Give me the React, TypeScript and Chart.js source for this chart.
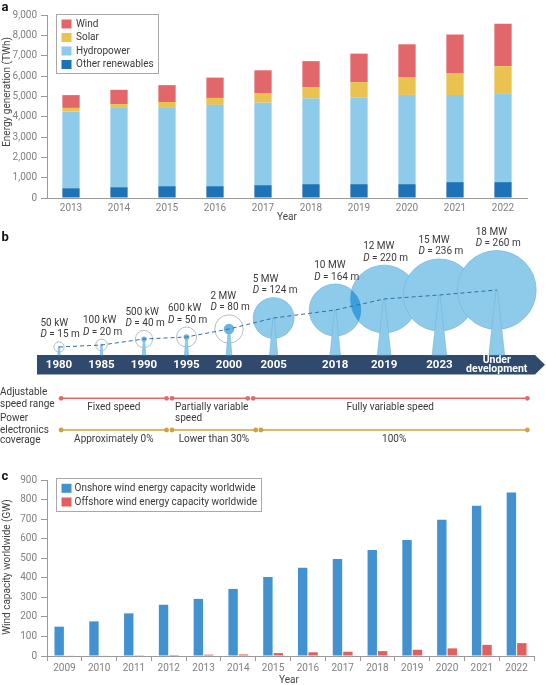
import React, { useEffect, useRef } from "react";
import { Chart, registerables } from "chart.js";

Chart.register(...registerables);

const FONT = "Roboto, 'Noto Sans', 'DejaVu Sans', sans-serif";

// ---------------- Panel a: renewable generation (TWh) ----------------
const genYears = ["2013", "2014", "2015", "2016", "2017", "2018", "2019", "2020", "2021", "2022"];
const otherRenewables = [480, 530, 580, 580, 630, 680, 680, 680, 780, 780];
const hydropower = [3780, 3900, 3850, 4000, 4060, 4210, 4260, 4390, 4280, 4340];
const solar = [170, 190, 290, 340, 470, 550, 760, 880, 1060, 1360];
const wind = [630, 700, 830, 1000, 1120, 1290, 1400, 1610, 1920, 2090];
const genTickLabels = ["0", "1,000", "2,000", "3,000", "4,000", "5,000", "6,000", "7,000", "8,000", "9,000"];

// ---------------- Panel b: turbine timeline ----------------
const eras = ["1980", "1985", "1990", "1995", "2000", "2005", "2018", "2019", "2023", "Under development"];
const ratedPower = ["50 kW", "100 kW", "500 kW", "600 kW", "2 MW", "5 MW", "10 MW", "12 MW", "15 MW", "18 MW"];
const powerMW = [0.05, 0.1, 0.5, 0.6, 2, 5, 10, 12, 15, 18];
const rotorDiameter = [15, 20, 40, 50, 80, 124, 164, 220, 236, 260];
const hubLevel = [8, 10, 16, 18, 26, 37, 45, 56, 60, 65];
const speedRanges = ["Fixed speed", "Partially variable\nspeed", "Fully variable speed"];
const speedSpans = [[0.05, 2.53], [2.66, 4.44], [4.57, 11.02]];
const peCoverage = ["Approximately 0%", "Lower than 30%", "100%"];
const peSpans = [[0.05, 2.53], [2.66, 4.63], [4.75, 11.02]];

// layout of the schematic timeline (slot units)
const eraSlot = [0, 1, 2, 3, 4, 5.05, 6.5, 7.65, 8.95, 10.3];
const SLOT_PX = 42.5;
const SLOT0 = 59;
const ROW_SPEED = -43.3;
const ROW_PE = -75;

// ---------------- Panel c: wind capacity (GW) ----------------
const capYears = ["2009", "2010", "2011", "2012", "2013", "2014", "2015", "2016", "2017", "2018", "2019", "2020", "2021", "2022"];
const onshore = [150, 177, 218, 262, 292, 343, 404, 451, 496, 542, 593, 697, 768, 836];
const offshore = [2, 3, 4, 5, 7, 8, 15, 19, 22, 25, 32, 39, 57, 66];
const capTickLabels = ["0", "100", "200", "300", "400", "500", "600", "700", "800", "900"];

const C = {
  wind: "#e2676a",
  solar: "#eac24f",
  hydro: "#8ecbeb",
  other: "#1d72b8",
  onshore: "#4292d1",
  offshore: "#e0605f",
  axis: "#9a9a9a",
  tick: "#808080",
  text: "#3a3a3a",
  band: "#2f4a6c",
  speed: "#e06a6c",
  pe: "#d0a23e",
};

function txt(ctx: any, s: string, x: number, y: number, o: any = {}) {
  ctx.save();
  ctx.font = o.font || `10px ${FONT}`;
  ctx.fillStyle = o.color || C.text;
  ctx.textAlign = o.align || "left";
  ctx.textBaseline = "middle";
  if (o.rot) {
    ctx.translate(x, y);
    ctx.rotate(o.rot);
    ctx.fillText(s, 0, 0);
  } else ctx.fillText(s, x, y);
  ctx.restore();
}

function drawLegend(ctx: any, box: any, items: any[]) {
  ctx.save();
  ctx.strokeStyle = "#a8a8a8";
  ctx.lineWidth = 1;
  ctx.strokeRect(box.x, box.y, box.w, box.h);
  items.forEach((it, k) => {
    const cy = box.first + k * box.step;
    ctx.fillStyle = it.color;
    ctx.fillRect(box.sx, cy - 4.5, 10, 9);
    txt(ctx, it.label, box.tx, cy, { font: `10px ${FONT}`, color: C.text });
  });
  ctx.restore();
}

function yAxis(labels: string[], max: number, step: number, width: number) {
  return {
    min: 0,
    max,
    stacked: true,
    border: { color: C.axis, width: 1 },
    grid: { drawOnChartArea: false, drawTicks: true, tickLength: 6, color: C.axis },
    ticks: {
      stepSize: step,
      padding: 4,
      color: C.tick,
      font: { family: FONT, size: 10 },
      callback: (_v: any, i: number) => labels[i],
    },
    afterFit: (s: any) => {
      s.width = width;
    },
  };
}

const configA = () => ({
  type: "bar",
  data: {
    labels: genYears,
    datasets: [
      { label: "Other renewables", data: otherRenewables, backgroundColor: C.other },
      { label: "Hydropower", data: hydropower, backgroundColor: C.hydro },
      { label: "Solar", data: solar, backgroundColor: C.solar },
      { label: "Wind", data: wind, backgroundColor: C.wind },
    ].map((d) => ({ ...d, barPercentage: 0.36, categoryPercentage: 1, borderWidth: 0 })),
  },
  options: {
    responsive: false,
    animation: false,
    events: [],
    layout: { padding: { top: 15, right: 19, left: 0, bottom: 0 } },
    plugins: { legend: { display: false }, tooltip: { enabled: false } },
    scales: {
      x: {
        stacked: true,
        border: { color: C.axis, width: 1 },
        grid: { display: false, drawTicks: false },
        ticks: { padding: 4, color: C.tick, font: { family: FONT, size: 10 }, maxRotation: 0, autoSkip: false },
        afterFit: (s: any) => {
          s.height = 24;
        },
      },
      y: yAxis(genTickLabels, 9000, 1000, 47),
    },
  },
  plugins: [
    {
      id: "decorA",
      afterDraw(chart: any) {
        const ctx = chart.ctx;
        txt(ctx, "a", 1.5, 8, { font: `bold 13px ${FONT}`, color: "#111" });
        txt(ctx, "Year", 287, 217, { align: "center", color: "#444" });
        txt(ctx, "Energy generation (TWh)", 7, 92, { align: "center", rot: -Math.PI / 2, color: "#444" });
        const items = chart.data.datasets
          .map((d: any) => ({ label: d.label, color: d.backgroundColor }))
          .reverse();
        drawLegend(ctx, { x: 56.5, y: 14.5, w: 102, h: 59, first: 24, step: 13.5, sx: 61.5, tx: 76 }, items);
      },
    },
  ],
});

const configB = () => ({
  type: "bubble",
  data: {
    datasets: [
      {
        type: "bubble",
        label: "Rotor",
        data: eras.map((_, i) => ({ x: eraSlot[i], y: hubLevel[i], r: 3 + 0.14 * rotorDiameter[i] })),
        backgroundColor: eras.map((_, i) => (i < 5 ? "rgba(0,0,0,0)" : C.hydro)),
        borderColor: eras.map((_, i) => (i < 5 ? "#a3adb7" : "#78b8e0")),
        borderWidth: 0.8,
        order: 3,
        clip: false,
      },
      {
        type: "bubble",
        label: "Hub",
        data: eras.slice(0, 5).map((_, i) => ({ x: eraSlot[i], y: hubLevel[i], r: 3.7 * Math.sqrt(powerMW[i]) })),
        backgroundColor: "#6ab4e4",
        borderWidth: 0,
        order: 2,
        clip: false,
      },
      {
        type: "line",
        label: "Trend",
        data: eras.map((_, i) => ({ x: eraSlot[i], y: hubLevel[i] })),
        borderColor: "#2f6ea6",
        borderWidth: 1,
        borderDash: [4, 3],
        pointRadius: 0,
        fill: false,
        order: 1,
        clip: false,
      },
      ...speedSpans.map((s, k) => ({
        type: "line",
        label: speedRanges[k],
        data: [{ x: s[0], y: ROW_SPEED }, { x: s[1], y: ROW_SPEED }],
        borderColor: C.speed,
        backgroundColor: C.speed,
        borderWidth: 1.5,
        pointRadius: 2.4,
        pointBorderWidth: 0,
        order: 0,
        clip: false,
      })),
      ...peSpans.map((s, k) => ({
        type: "line",
        label: peCoverage[k],
        data: [{ x: s[0], y: ROW_PE }, { x: s[1], y: ROW_PE }],
        borderColor: C.pe,
        backgroundColor: C.pe,
        borderWidth: 1.5,
        pointRadius: 2.4,
        pointBorderWidth: 0,
        order: 0,
        clip: false,
      })),
    ],
  },
  options: {
    responsive: false,
    animation: false,
    events: [],
    layout: { padding: 0, autoPadding: false },
    plugins: { legend: { display: false }, tooltip: { enabled: false } },
    scales: {
      x: { type: "linear", display: false, bounds: "data", min: -SLOT0 / SLOT_PX, max: (546 - SLOT0) / SLOT_PX },
      y: { type: "linear", display: false, bounds: "data", min: -115, max: 135 },
    },
  },
  plugins: [
    {
      id: "decorB",
      beforeDatasetsDraw(chart: any) {
        const ctx = chart.ctx;
        const xs = chart.scales.x;
        const top = chart.scales.y.getPixelForValue(0);
        const bot = top + 19.5;
        const left = 37, right = 535, tip = 545;
        ctx.save();
        ctx.fillStyle = C.band;
        ctx.beginPath();
        ctx.moveTo(left, top);
        ctx.lineTo(right, top);
        ctx.lineTo(tip, (top + bot) / 2);
        ctx.lineTo(right, bot);
        ctx.lineTo(left, bot);
        ctx.closePath();
        ctx.fill();
        ctx.restore();
        eras.forEach((e, i) => {
          const x = xs.getPixelForValue(eraSlot[i]);
          if (e.includes(" ")) {
            const [a, ...rest] = e.split(" ");
            txt(ctx, a, x, top + 5.5, { font: `bold 10.5px ${FONT}`, color: "#fff", align: "center" });
            txt(ctx, rest.join(" "), x, top + 14, { font: `bold 10.5px ${FONT}`, color: "#fff", align: "center" });
          } else {
            txt(ctx, e, x, top + 10, { font: `bold 11.5px ${FONT}`, color: "#fff", align: "center" });
          }
        });
      },
      afterDatasetDraw(chart: any, args: any) {
        if (args.index !== 0) return;
        const ctx = chart.ctx;
        const meta = chart.getDatasetMeta(0);
        const base = chart.scales.y.getPixelForValue(0);
        const a = meta.data[6], b = meta.data[7];
        ctx.save();
        ctx.beginPath();
        ctx.arc(a.x, a.y, a.options.radius, 0, Math.PI * 2);
        ctx.clip();
        ctx.beginPath();
        ctx.arc(b.x, b.y, b.options.radius, 0, Math.PI * 2);
        ctx.fillStyle = "#3d9edc";
        ctx.fill();
        ctx.restore();
        ctx.save();
        meta.data.forEach((el: any) => {
          const r = el.options.radius;
          const bw = Math.max(1.1, 0.2 * r);
          const tw = 0.7;
          ctx.beginPath();
          ctx.moveTo(el.x - tw, el.y);
          ctx.lineTo(el.x + tw, el.y);
          ctx.lineTo(el.x + bw, base);
          ctx.lineTo(el.x - bw, base);
          ctx.closePath();
          ctx.fillStyle = C.hydro;
          ctx.fill();
          ctx.strokeStyle = "#72b4de";
          ctx.lineWidth = 0.6;
          ctx.stroke();
        });
        ctx.restore();
      },
      afterDraw(chart: any) {
        const ctx = chart.ctx;
        const xs = chart.scales.x;
        const ys = chart.scales.y;
        txt(ctx, "b", 1.5, 17.8, { font: `bold 13px ${FONT}`, color: "#111" });
        const meta = chart.getDatasetMeta(0);
        meta.data.forEach((el: any, i: number) => {
          const r = el.options.radius;
          const dY = el.y - r - 7;
          const pY = dY - 11.3;
          const lx = el.x - (i < 5 ? 18.5 : 21);
          txt(ctx, ratedPower[i], lx, pY);
          ctx.save();
          ctx.font = `italic 10px ${FONT}`;
          const w = ctx.measureText("D").width;
          ctx.restore();
          txt(ctx, "D", lx, dY, { font: `italic 10px ${FONT}` });
          txt(ctx, ` = ${rotorDiameter[i]} m`, lx + w, dY);
        });
        // row headers
        const ySp = ys.getPixelForValue(ROW_SPEED);
        const yPe = ys.getPixelForValue(ROW_PE);
        txt(ctx, "Adjustable", 0, ySp - 5.6);
        txt(ctx, "speed range", 0, ySp + 5.7);
        txt(ctx, "Power", 0, yPe - 11.5);
        txt(ctx, "electronics", 0, yPe);
        txt(ctx, "coverage", 0, yPe + 10.8);
        const rowLabels = (labels: string[], spans: number[][], y: number) => {
          labels.forEach((lab, k) => {
            const [s0, s1] = spans[k];
            const lines = lab.split("\n");
            if (lines.length > 1) {
              const x = xs.getPixelForValue(s0) + 3;
              lines.forEach((ln, j) => txt(ctx, ln, x, y + 9 + j * 11));
            } else {
              txt(ctx, lab, (xs.getPixelForValue(s0) + xs.getPixelForValue(s1)) / 2, y + 9.5, { align: "center" });
            }
          });
        };
        rowLabels(speedRanges, speedSpans, ySp);
        rowLabels(peCoverage, peSpans, yPe);
      },
    },
  ],
});

const configC = () => ({
  type: "bar",
  data: {
    labels: capYears,
    datasets: [
      { label: "Onshore wind energy capacity worldwide", data: onshore, backgroundColor: C.onshore },
      { label: "Offshore wind energy capacity worldwide", data: offshore, backgroundColor: C.offshore },
    ].map((d) => ({ ...d, barPercentage: 0.9, categoryPercentage: 0.6, borderWidth: 0 })),
  },
  options: {
    responsive: false,
    animation: false,
    events: [],
    layout: { padding: { top: 8, right: 12, left: 0, bottom: 0 } },
    plugins: { legend: { display: false }, tooltip: { enabled: false } },
    scales: {
      x: {
        border: { color: C.axis, width: 1 },
        grid: { display: true, drawOnChartArea: false, drawTicks: true, tickLength: 5, color: C.axis, offset: true },
        ticks: { padding: 1, color: C.tick, font: { family: FONT, size: 10 }, maxRotation: 0, autoSkip: false },
        afterFit: (s: any) => {
          s.height = 29;
        },
      },
      y: { ...yAxis(capTickLabels, 900, 100, 47), stacked: false },
    },
  },
  plugins: [
    {
      id: "decorC",
      afterDraw(chart: any) {
        const ctx = chart.ctx;
        txt(ctx, "c", 1.5, 7, { font: `bold 13px ${FONT}`, color: "#111" });
        txt(ctx, "Year", 289, 210, { align: "center", color: "#444" });
        txt(ctx, "Wind capacity worldwide (GW)", 7, 97, { align: "center", rot: -Math.PI / 2, color: "#444" });
        const items = chart.data.datasets.map((d: any) => ({ label: d.label, color: d.backgroundColor }));
        drawLegend(ctx, { x: 56.5, y: 8.5, w: 205, h: 33, first: 18.3, step: 13.7, sx: 61.5, tx: 74.5 }, items);
      },
    },
  ],
});

function ChartCanvas({ top, height, config }: { top: number; height: number; config: () => any }) {
  const ref = useRef<HTMLCanvasElement | null>(null);
  useEffect(() => {
    const chart = new Chart(ref.current as HTMLCanvasElement, config());
    return () => chart.destroy();
  }, []);
  return (
    <canvas
      ref={ref}
      width={546}
      height={height}
      style={{ position: "absolute", left: 0, top, width: 546, height, display: "block" }}
    />
  );
}

export default function App() {
  return (
    <div style={{ position: "absolute", left: 0, top: 0, width: 546, height: 685, background: "#fff", overflow: "hidden" }}>
      <ChartCanvas top={0} height={222} config={configA} />
      <ChartCanvas top={220} height={250} config={configB} />
      <ChartCanvas top={470} height={215} config={configC} />
    </div>
  );
}
